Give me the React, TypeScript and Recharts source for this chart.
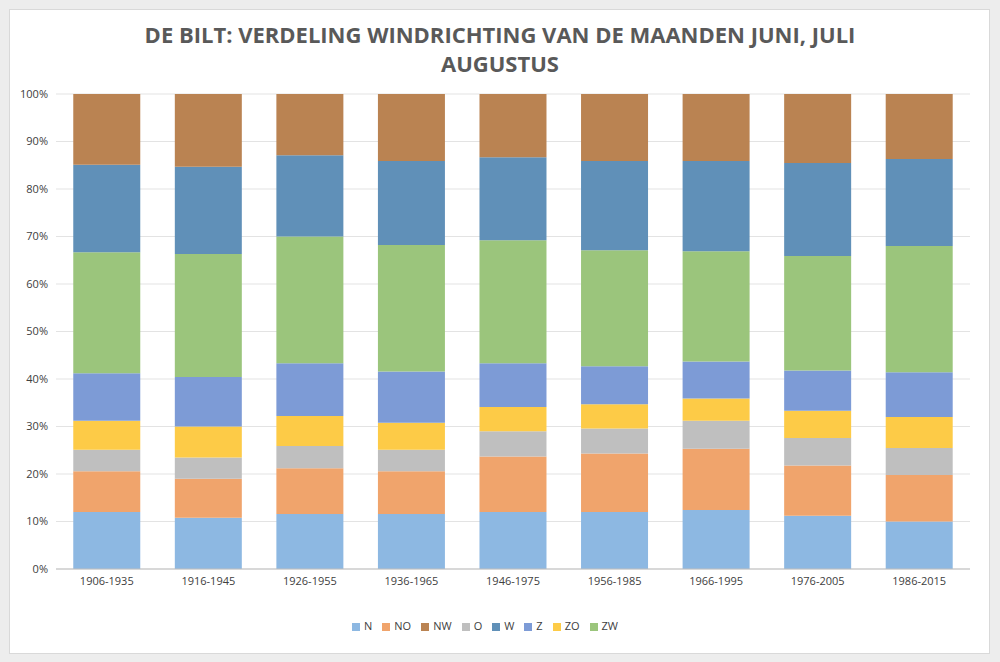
import { BarChart, Bar, XAxis, YAxis, CartesianGrid, Legend } from "recharts";

const periods = ["1906-1935", "1916-1945", "1926-1955", "1936-1965", "1946-1975", "1956-1985", "1966-1995", "1976-2005", "1986-2015"];
// cumulative tops (%)
const cumN = [12.0, 10.8, 11.6, 11.6, 12.0, 12.0, 12.4, 11.2, 10.0];
const cumNO = [20.6, 19.0, 21.2, 20.6, 23.7, 24.3, 25.3, 21.8, 19.8];
const cumO = [25.1, 23.5, 25.9, 25.1, 29.0, 29.6, 31.2, 27.6, 25.5];
const cumZO = [31.2, 30.0, 32.2, 30.8, 34.1, 34.7, 35.9, 33.3, 32.0];
const cumZ = [41.2, 40.4, 43.3, 41.6, 43.3, 42.7, 43.7, 41.8, 41.4];
const cumZW = [66.7, 66.3, 70.0, 68.2, 69.2, 67.1, 66.9, 65.9, 68.0];
const cumW = [85.1, 84.7, 87.1, 85.9, 86.7, 85.9, 85.9, 85.5, 86.3];

const directions = ["N", "NO", "O", "ZO", "Z", "ZW", "W", "NW"];
const colors = ["#8db8e2", "#f0a46c", "#bfbfbf", "#fdcb47", "#7d9bd6", "#9bc57c", "#6090b8", "#ba8352"];
const cums = [cumN, cumNO, cumO, cumZO, cumZ, cumZW, cumW];

const data = periods.map((p, i) => {
  const row: Record<string, number | string> = { period: p };
  let prev = 0;
  directions.forEach((d, k) => {
    const top = k < cums.length ? cums[k][i] : 100;
    row[d] = +(top - prev).toFixed(1);
    prev = top;
  });
  return row;
});

const ticks = [0, 10, 20, 30, 40, 50, 60, 70, 80, 90, 100];

export default function App() {
  return (
    <div style={{ position: "absolute", left: 0, top: 0, width: 1000, height: 662, background: "#ededed", fontFamily: "'Open Sans', sans-serif" }}>
      <div style={{ position: "absolute", left: 9, top: 9, width: 979, height: 643, background: "#fff", border: "1px solid #d9d9d9" }} />
      <div style={{ position: "absolute", left: 0, top: 20, width: 1000, textAlign: "center", color: "#595959", fontSize: 22, fontWeight: "bold", lineHeight: "29px" }}>
        DE BILT: VERDELING WINDRICHTING VAN DE MAANDEN JUNI, JULI<br />AUGUSTUS
      </div>
      <div style={{ position: "absolute", left: 0, top: 0 }}>
        <BarChart width={1000} height={662} data={data} barCategoryGap="17%" margin={{ top: 94, right: 30, left: 10, bottom: 48 }}>
          <CartesianGrid vertical={false} stroke="#e3e3e3" />
          <XAxis dataKey="period" height={30} tickLine={false} axisLine={{ stroke: "#bfbfbf" }} tick={{ fill: "#404040", fontSize: 11 }} />
          <YAxis width={46} domain={[0, 100]} ticks={ticks} tickFormatter={(v) => `${v}%`} tickLine={false} axisLine={false} tick={{ fill: "#404040", fontSize: 11 }} />
          <Legend iconType="square" iconSize={8} wrapperStyle={{ top: 618, fontSize: 11, color: "#404040" }} formatter={(v) => <span style={{ color: "#404040" }}>{v}</span>} />
          {directions.map((d, k) => (
            <Bar key={d} dataKey={d} stackId="a" fill={colors[k]} isAnimationActive={false} />
          ))}
        </BarChart>
      </div>
    </div>
  );
}
